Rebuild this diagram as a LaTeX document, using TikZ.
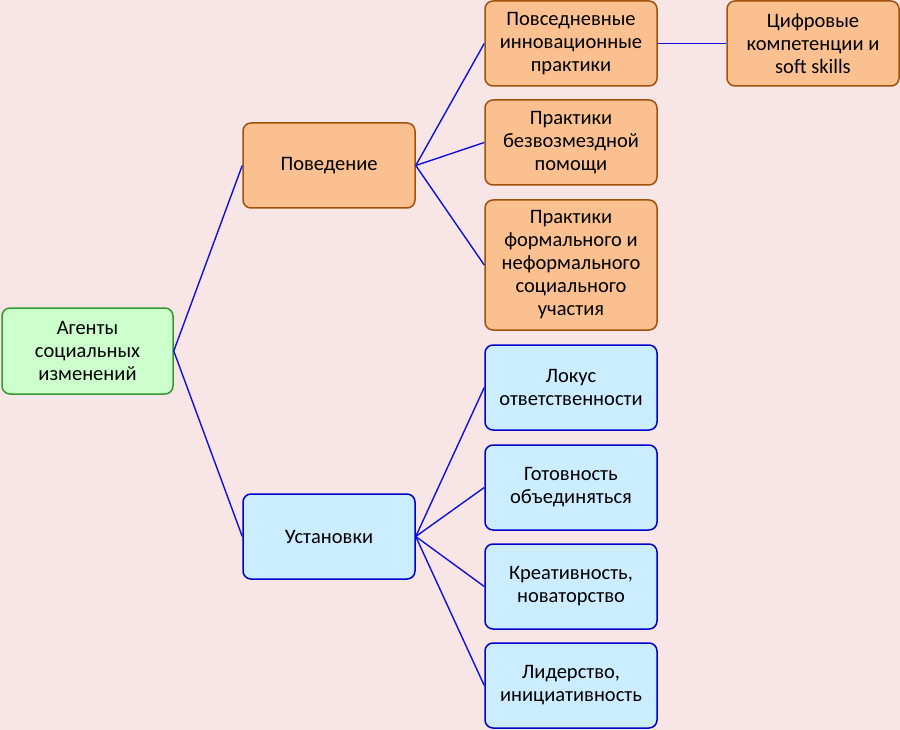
\documentclass[tikz,border=0pt]{standalone}
\usepackage{fontspec}
\setmainfont{Carlito}
\definecolor{bg}{HTML}{F8E6E6}
\definecolor{orfill}{HTML}{FAC090}
\definecolor{ordraw}{HTML}{A0520A}
\definecolor{blfill}{HTML}{CCECFF}
\definecolor{bldraw}{HTML}{0000CC}
\definecolor{grfill}{HTML}{CCFFCC}
\definecolor{grdraw}{HTML}{339933}
\definecolor{conn}{HTML}{1010DD}
\begin{document}
\begin{tikzpicture}[x=1pt,y=-1pt,
  box/.style={rounded corners=8pt, line width=1.5pt, minimum width=172pt, align=center,
    font=\fontsize{20.5}{23}\selectfont, inner sep=2pt},
  obox/.style={box, fill=orfill, draw=ordraw},
  bbox/.style={box, fill=blfill, draw=bldraw},
  gbox/.style={box, fill=grfill, draw=grdraw, minimum width=171pt},
  link/.style={draw=conn, line width=1.4pt}]
\fill[bg] (0,0) rectangle (900,730);
\useasboundingbox (0,0) rectangle (900,730);
\node[gbox, minimum height=86pt] (root) at (87.5,351) {Агенты\\социальных\\изменений};
\node[obox, minimum height=85pt] (beh) at (329,165.5) {Поведение};
\node[bbox, minimum height=85pt] (att) at (329,536.5) {Установки};
\node[obox, minimum height=85pt] (b1) at (571,43.5) {Повседневные\\инновационные\\практики};
\node[obox, minimum height=85pt] (b2) at (571,142.5) {Практики\\безвозмездной\\помощи};
\node[obox, minimum height=130pt] (b3) at (571,265) {Практики\\формального и\\неформального\\социального\\участия};
\node[obox, minimum height=85pt] (d) at (813,43.5) {Цифровые\\компетенции и\\soft skills};
\node[bbox, minimum height=85pt] (a1) at (571,387.5) {Локус\\ответственности};
\node[bbox, minimum height=85pt] (a2) at (571,487.5) {Готовность\\объединяться};
\node[bbox, minimum height=85pt] (a3) at (571,586.5) {Креативность,\\новаторство};
\node[bbox, minimum height=85pt] (a4) at (571,685.5) {Лидерство,\\инициативность};
\draw[link] (root.east) -- (beh.west);
\draw[link] (root.east) -- (att.west);
\foreach \c in {b1,b2,b3} \draw[link] (beh.east) -- (\c.west);
\foreach \c in {a1,a2,a3,a4} \draw[link] (att.east) -- (\c.west);
\draw[link] (b1.east) -- (d.west);
\end{tikzpicture}
\end{document}
